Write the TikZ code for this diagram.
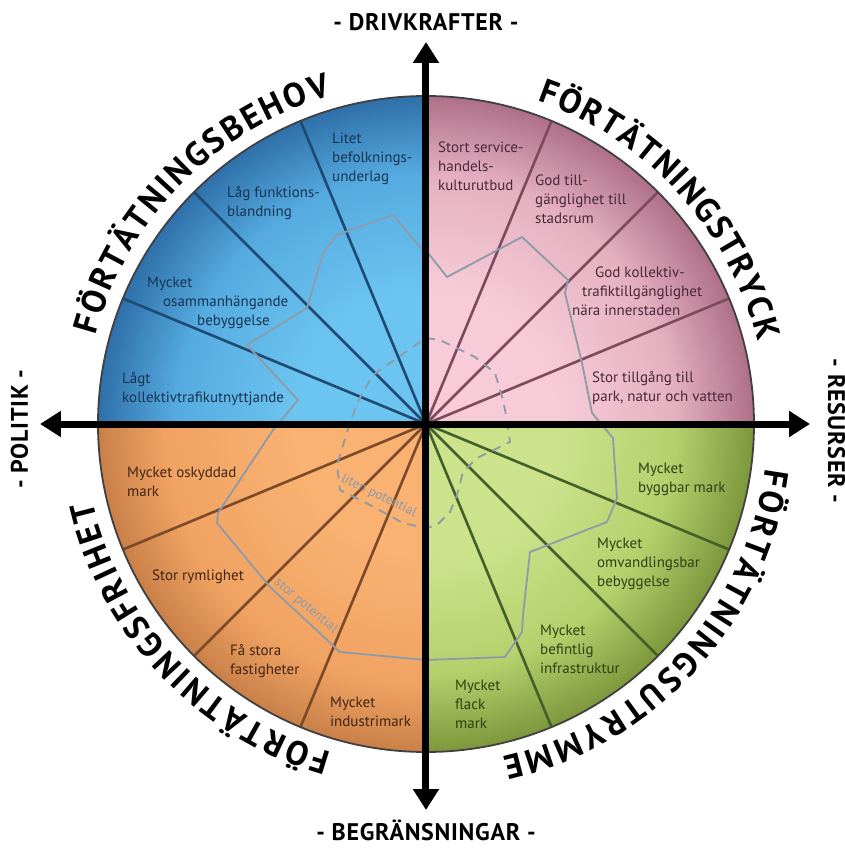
\documentclass[tikz,border=0pt]{standalone}
\usepackage{fontspec}
\setmainfont{PT Sans}
\newfontfamily\ptsans{PT Sans}
\newfontfamily\ptsansax{PT Sans}[LetterSpace=3]
\usetikzlibrary{arrows.meta,decorations.text}

\definecolor{bluein}{HTML}{6CC4F0}
\definecolor{bluemid}{HTML}{55ABE0}
\definecolor{blueout}{HTML}{2F70AA}
\definecolor{pinkin}{HTML}{F7CCD8}
\definecolor{pinkmid}{HTML}{E4B0C0}
\definecolor{pinkout}{HTML}{AE7088}
\definecolor{orin}{HTML}{F9B272}
\definecolor{ormid}{HTML}{F0A262}
\definecolor{orout}{HTML}{C98048}
\definecolor{grin}{HTML}{CCE38C}
\definecolor{grmid}{HTML}{B4D06C}
\definecolor{grout}{HTML}{7D973C}
\definecolor{bluespk}{HTML}{1F4A73}
\definecolor{pinkspk}{HTML}{7D4A5C}
\definecolor{orspk}{HTML}{7A4A2A}
\definecolor{grspk}{HTML}{44602A}
\definecolor{bluetxt}{HTML}{1A3450}
\definecolor{pinktxt}{HTML}{48283A}
\definecolor{ortxt}{HTML}{3F2515}
\definecolor{grtxt}{HTML}{2F3F15}
\definecolor{potc}{HTML}{8E9AA8}

\pgfdeclareradialshading{shblue}{\pgfpointorigin}{color(0bp)=(bluein); color(10bp)=(bluein); color(19bp)=(bluemid); color(25bp)=(blueout); color(50bp)=(blueout)}
\pgfdeclareradialshading{shpink}{\pgfpointorigin}{color(0bp)=(pinkin); color(10bp)=(pinkin); color(19bp)=(pinkmid); color(25bp)=(pinkout); color(50bp)=(pinkout)}
\pgfdeclareradialshading{shor}{\pgfpointorigin}{color(0bp)=(orin); color(10bp)=(orin); color(20bp)=(ormid); color(25bp)=(orout); color(50bp)=(orout)}
\pgfdeclareradialshading{shgr}{\pgfpointorigin}{color(0bp)=(grin); color(10bp)=(grin); color(19bp)=(grmid); color(25bp)=(grout); color(50bp)=(grout)}

\newcommand\labfont{\ptsans\fontsize{15}{19}\selectfont}
\newcommand\axfont{\ptsansax\bfseries\fontsize{24}{24}\selectfont}
\newcommand\qtfont{\ptsans\bfseries\fontsize{34}{34}\selectfont}
\newcommand\potfont{\ptsans\fontsize{13.5}{13.5}\selectfont}

\begin{document}
\begin{tikzpicture}[x=1pt,y=1pt,
  lab/.style={anchor=north west, align=left, inner sep=0pt, font=\labfont},
  spoke/.style={line width=2.6pt},
  axisarrow/.style={line width=7pt, {Triangle[length=21pt,width=25pt]}-{Triangle[length=21pt,width=25pt]}},
  pot/.style={draw=potc, line width=1.8pt, line join=round},
  potlab/.style={font=\potfont, text=potc, inner sep=0pt},
  axlab/.style={font=\axfont, inner sep=0pt, text depth=0pt},
  qtitle/.style={decorate, decoration={text along path, text align={fit to path}, text={|\qtfont|#1}}}
]
\useasboundingbox (-426,-425) rectangle (418,424);
\coordinate (C) at (0,0);

% quadrants
\begin{scope}
\clip (C) -- (90:328) arc[start angle=90,end angle=180,radius=328] -- cycle;
\shade[shading=shblue] (C) circle[radius=328];
\end{scope}
\begin{scope}
\clip (C) -- (0:328) arc[start angle=0,end angle=90,radius=328] -- cycle;
\shade[shading=shpink] (C) circle[radius=328];
\end{scope}
\begin{scope}
\clip (C) -- (180:328) arc[start angle=180,end angle=270,radius=328] -- cycle;
\shade[shading=shor] (C) circle[radius=328];
\end{scope}
\begin{scope}
\clip (C) -- (270:328) arc[start angle=270,end angle=360,radius=328] -- cycle;
\shade[shading=shgr] (C) circle[radius=328];
\end{scope}

% spokes
\foreach \a in {112.5,135,157.5} \draw[spoke, draw=bluespk] (C) -- (\a:328);
\foreach \a in {22.5,45,67.5} \draw[spoke, draw=pinkspk] (C) -- (\a:328);
\foreach \a in {202.5,225,247.5} \draw[spoke, draw=orspk] (C) -- (\a:328);
\foreach \a in {-22.5,-45,-67.5} \draw[spoke, draw=grspk] (C) -- (\a:328);

% potential outlines
\draw[pot] (-33,209) -- (-6,177) -- (2,171) -- (21,147) -- (96,187) -- (142,144) -- (139,131)
  -- (156,61) -- (166,11) -- (187,-14) -- (191,-74) -- (181,-98) -- (104,-128) -- (97,-191)
  -- (96,-208) -- (79,-233) -- (0,-236) -- (-86,-228) -- (-156,-163) -- (-209,-99) -- (-208,-89)
  -- (-153,-6) -- (-128,24) -- (-179,79) -- (-119,116) -- (-103,171) -- (-89,189) -- cycle;
\draw[pot, dash pattern=on 9pt off 7pt] (0,86) -- (14,84) -- (49,67) -- (69,51) -- (77,24) -- (81,4)
  -- (84,-18) -- (51,-34) -- (37,-48) -- (31,-71) -- (24,-88) -- (11,-101) -- (0,-104)
  -- (-23,-99) -- (-56,-81) -- (-86,-66) -- (-89,-41) -- (-79,-8) -- (-69,21) -- (-53,49)
  -- (-29,66) -- cycle;
\node[potlab, rotate=-26] (lit) at (-47,-72) {liten potential};
\node[potlab, rotate=-40] (stor) at (-120,-182) {stor potential};

% rim
\draw[line width=1.8pt, draw=black!75] (C) circle[radius=328];

% labels
\node[lab, text=bluetxt] (b1) at (-94,294) {\strut Litet\\befolknings-\\underlag};
\node[lab, text=bluetxt] (b2) at (-199,240) {\strut Låg funktions-\\blandning};
\node[lab, text=bluetxt] (b3) at (-279,150) {\strut Mycket\\\hspace*{16pt}osammanhängande\\\hspace*{50pt}bebyggelse};
\node[lab, text=bluetxt] (b4) at (-304,54) {\strut Lågt\\kollektivtrafikutnyttjande};
\node[lab, text=pinktxt] (p1) at (12,285) {\strut Stort service-\\handels-\\kulturutbud};
\node[lab, text=pinktxt] (p2) at (109,252) {\strut God till-\\gänglighet till\\stadsrum};
\node[lab, text=pinktxt] (p3) at (146,160) {\strut\hspace*{23pt}God kollektiv-\\\hspace*{10pt}trafiktillgänglighet\\nära innerstaden};
\node[lab, text=pinktxt] (p4) at (166,55) {\strut Stor tillgång till\\park, natur och vatten};
\node[lab, text=ortxt] (o1) at (-299,-40) {\strut Mycket oskyddad\\mark};
\node[lab, text=ortxt] (o2) at (-274,-143) {\strut Stor rymlighet};
\node[lab, text=ortxt] (o3) at (-196,-218) {\strut Få stora\\fastigheter};
\node[lab, text=ortxt] (o4) at (-96,-270) {\strut Mycket\\industrimark};
\node[lab, text=grtxt] (g1) at (212,-36) {\strut Mycket\\byggbar mark};
\node[lab, text=grtxt] (g2) at (171,-111) {\strut Mycket\\omvandlingsbar\\bebyggelse};
\node[lab, text=grtxt] (g3) at (114,-198) {\strut Mycket\\befintlig\\infrastruktur};
\node[lab, text=grtxt] (g4) at (29,-253) {\strut Mycket\\flack\\mark};

% axes
\coordinate (atop) at (0,382);
\coordinate (abot) at (0,-386);
\coordinate (aleft) at (-386,0);
\coordinate (aright) at (384,0);
\draw[axisarrow] (abot) -- (atop);
\draw[axisarrow] (aleft) -- (aright);

% axis labels
\node[axlab, anchor=base] (drv) at (0,393) {- DRIVKRAFTER -};
\node[axlab, anchor=base] (beg) at (0,-416) {- BEGRÄNSNINGAR -};
\node[axlab, rotate=90, anchor=base] (pol) at (-398,-5) {- POLITIK -};
\node[axlab, rotate=-90, anchor=base] (res) at (402,-7) {- RESURSER -};

% curved titles
\path[qtitle=FÖRTÄTNINGSBEHOV] (165:342) arc[start angle=165, end angle=106, radius=342];
\path[qtitle=FÖRTÄTNINGSTRYCK] (71:342) arc[start angle=71, end angle=14, radius=342];
\path[qtitle=FÖRTÄTNINGSUTRYMME] (-7.5:342) arc[start angle=-7.5, end angle=-77, radius=342];
\path[qtitle=FÖRTÄTNINGSFRIHET] (-106:342) arc[start angle=-106, end angle=-167, radius=342];
\end{tikzpicture}
\end{document}
